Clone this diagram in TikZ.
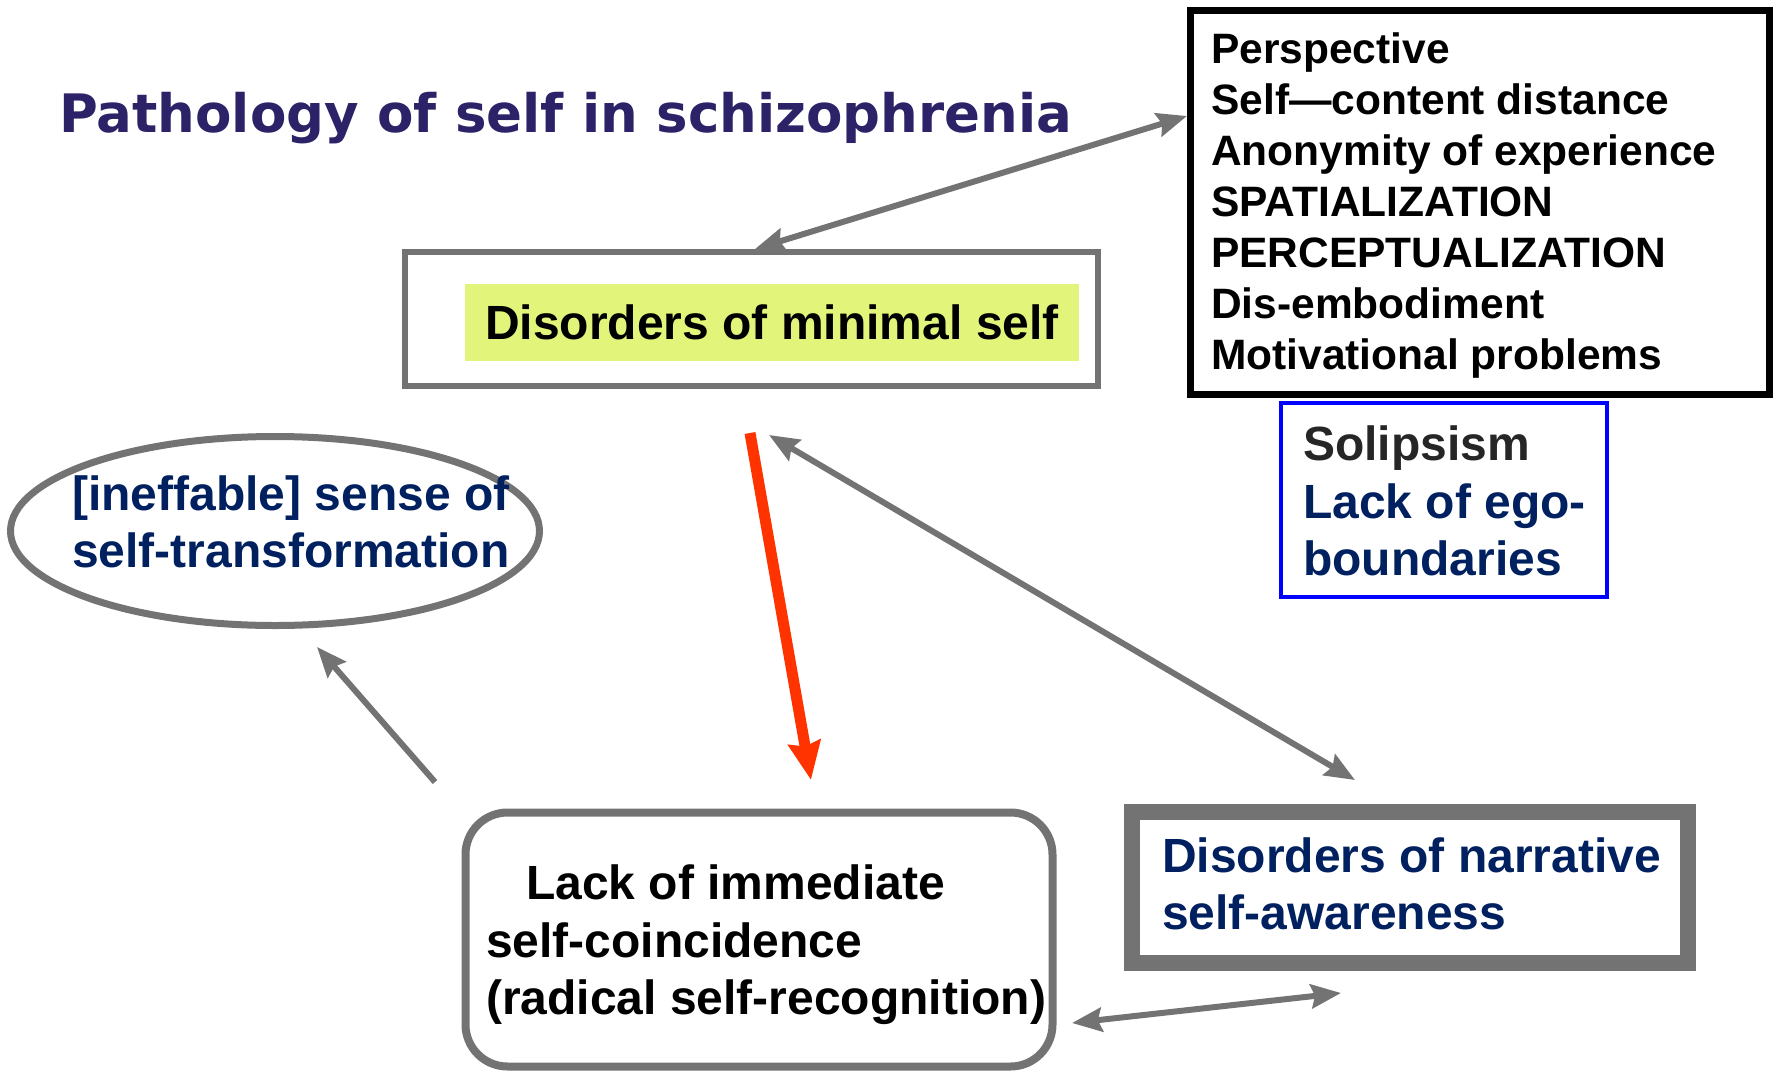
\documentclass[tikz,border=0pt]{standalone}
\usepackage{fontspec}
\setmainfont{Liberation Sans}
\newfontfamily\titlefont{DejaVu Sans}
\usetikzlibrary{arrows.meta,shapes.geometric}
\definecolor{titlecol}{HTML}{2B2268}
\definecolor{navy}{HTML}{002060}
\definecolor{boxgrey}{HTML}{737373}
\definecolor{hlyellow}{HTML}{E2F47A}
\definecolor{redarrow}{HTML}{FF3300}
\definecolor{darktext}{HTML}{262626}
\tikzset{
  bigtext/.style={font=\fontsize{48}{57.6}\selectfont\bfseries, inner sep=0pt, align=left},
  listtext/.style={font=\fontsize{42.5}{51}\selectfont\bfseries, inner sep=0pt, align=left},
  greyarrow/.style={draw=boxgrey, line width=6pt, -{Stealth[length=30pt,width=24pt,inset=4pt]}},
  greydouble/.style={draw=boxgrey, line width=6pt, {Stealth[length=30pt,width=24pt,inset=4pt]}-{Stealth[length=30pt,width=24pt,inset=4pt]}},
  redarr/.style={draw=redarrow, line width=11pt, -{Stealth[length=38pt,width=32pt,inset=4pt]}},
}
\begin{document}
\begin{tikzpicture}[x=1pt,y=-1pt]
\useasboundingbox (0,0) rectangle (1773,1071);
% title
\node[font=\titlefont\fontsize{53}{60}\selectfont\bfseries, text=titlecol, inner sep=0pt, anchor=west] (title) at (59,118) {Pathology of self in schizophrenia};
% minimal self box
\node[draw=boxgrey, line width=6pt, minimum width=693pt, minimum height=134pt, inner sep=0pt] (minbox) at (751.5,319) {};
\node[fill=hlyellow, minimum width=614pt, minimum height=77pt, inner sep=0pt] (hl) at (772,322.5) {};
\node[bigtext, text=black] (minlabel) at (772,322.5) {Disorders of minimal self};
% black list box
\node[draw=black, line width=7pt, minimum width=579pt, minimum height=384pt, inner sep=0pt] (listbox) at (1480,202.5) {};
\node[listtext, text=black, anchor=west] (listtxt) at (1211,206) {Perspective\\Self\textemdash content distance\\Anonymity of experience\\SPATIALIZATION\\PERCEPTUALIZATION\\Dis-embodiment\\Motivational problems};
% blue box
\node[draw=blue, line width=4pt, minimum width=326pt, minimum height=194pt, inner sep=0pt] (bluebox) at (1444,500) {};
\node[bigtext, anchor=west] (bluetxt) at (1303,501) {\textcolor{darktext}{Solipsism}\\\textcolor{navy}{Lack of ego-}\\\textcolor{navy}{boundaries}};
% ellipse
\node[ellipse, draw=boxgrey, line width=7pt, minimum width=529pt, minimum height=189pt, inner sep=0pt] (ell) at (275,531) {};
\node[bigtext, text=navy, anchor=west] (elltxt) at (72,522) {[ineffable] sense of\\self-transformation};
% lack of immediate box
\node[draw=boxgrey, line width=8pt, rounded corners=42pt, minimum width=587pt, minimum height=254pt, inner sep=0pt] (lackbox) at (759,939.5) {};
\node[bigtext, text=black, anchor=west] (lacktxt) at (486,945) {\hspace*{40pt}Lack of immediate\\self-coincidence\\(radical self-recognition)};
% narrative box
\node[draw=boxgrey, line width=16pt, minimum width=556pt, minimum height=151pt, inner sep=0pt] (narrbox) at (1410,887.5) {};
\node[bigtext, text=navy, anchor=west] (narrtxt) at (1162,884) {Disorders of narrative\\self-awareness};
% arrow end points
\coordinate (a1s) at (listbox.west |- 0,116);
\coordinate (a1e) at (755,249);
\coordinate (rs) at (750,433);
\coordinate (re) at (811,780);
\coordinate (gs) at (769,435);
\coordinate (ge) at (1355,780);
\coordinate (es) at (435,782);
\coordinate (ee) at (317,647);
\coordinate (ls) at (1072,1023);
\coordinate (le) at (1341,993);
% arrows
\draw[greydouble] (a1s) -- (a1e);
\draw[redarr] (rs) -- (re);
\draw[greydouble] (gs) -- (ge);
\draw[greyarrow] (es) -- (ee);
\draw[greydouble] (ls) -- (le);
\end{tikzpicture}
\end{document}
